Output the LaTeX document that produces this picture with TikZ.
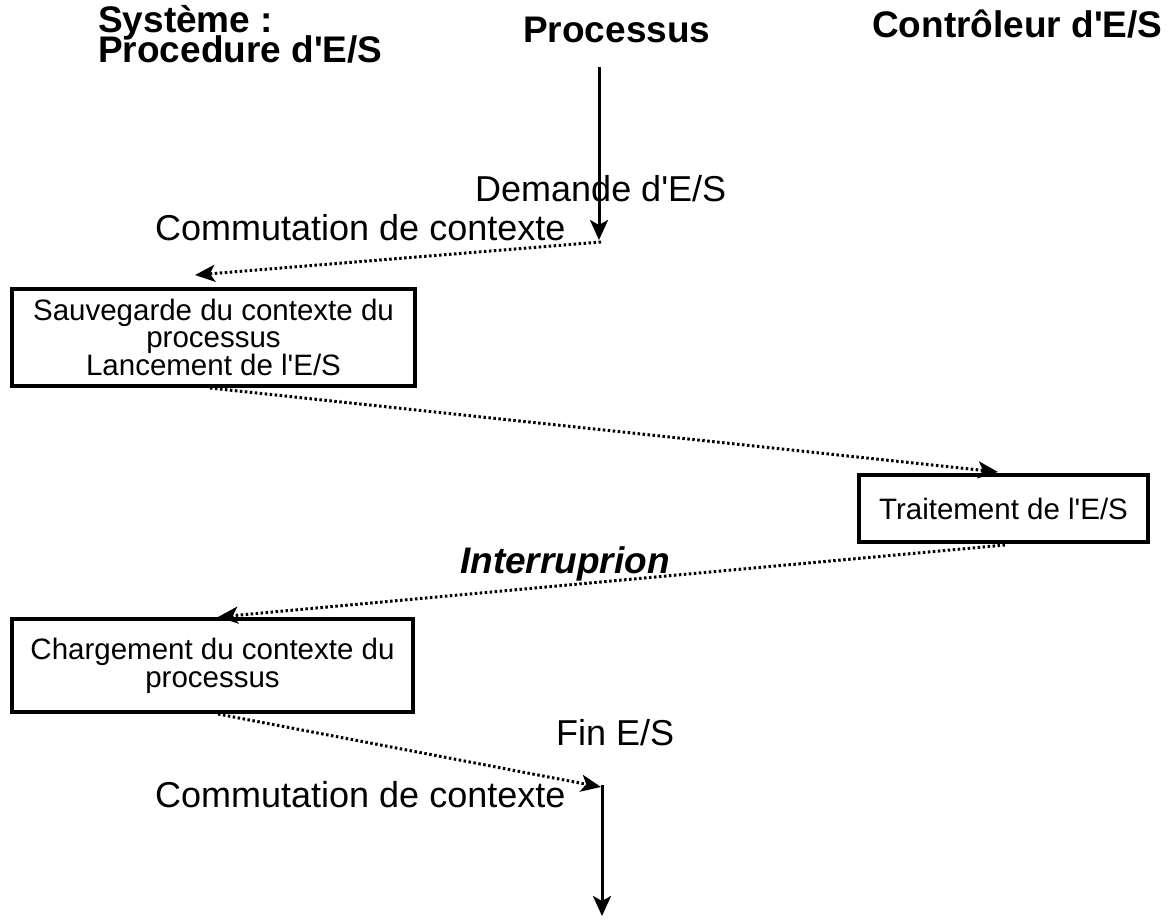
\documentclass[tikz,border=0pt]{standalone}
\usepackage{fontspec}
\setmainfont{Liberation Sans}
\usetikzlibrary{arrows.meta}
\newcommand{\apo}{\textquotesingle}
\begin{document}
\begin{tikzpicture}[x=1pt,y=-1pt,
  lbl/.style={inner sep=0pt, anchor=base west, font=\fontsize{36}{40}\selectfont},
  hdr/.style={inner sep=0pt, anchor=base west, font=\fontsize{37}{28}\selectfont\bfseries},
  procbox/.style={draw, line width=3.5pt, inner sep=0pt, align=center},
  solidarrow/.style={line width=3pt, -{Stealth[length=20pt,width=18pt,inset=5pt]}},
  dotarrow/.style={line width=3pt, dash pattern=on 2.5pt off 2.5pt, -{Stealth[length=20pt,width=17pt,inset=5pt]}}]
\useasboundingbox[fill=white] (0,0) rectangle (1172,919);

% headers
\node[hdr] (sys) at (98,32) {Système :};
\node[hdr] (sysb) at (98,62) {Procedure d\apo E/S};
\node[hdr] (proc) at (523,42) {Processus};
\node[hdr] (ctrl) at (872,37) {Contrôleur d\apo E/S};

% labels
\node[lbl] (dem) at (475,201) {Demande d\apo E/S};
\node[lbl] (com1) at (155,240) {Commutation de contexte};
\node[inner sep=0pt, anchor=base west, font=\fontsize{37}{40}\selectfont\bfseries\itshape] (intr) at (460,573) {Interruprion};
\node[lbl] (fin) at (556,745) {Fin E/S};
\node[lbl] (com2) at (155,807) {Commutation de contexte};

% boxes
\node[procbox, minimum width=403pt, minimum height=97pt, font=\fontsize{29.5}{27}\selectfont] (sauv) at (213.5,337.5) {Sauvegarde du contexte du\\processus\\Lancement de l\apo E/S};
\node[procbox, minimum width=289pt, minimum height=67pt, font=\fontsize{29.5}{28}\selectfont] (trait) at (1003.5,508.5) {Traitement de l\apo E/S};
\node[procbox, minimum width=401pt, minimum height=93pt, font=\fontsize{29.5}{28}\selectfont] (charg) at (212.5,665.5) {Chargement du contexte du\\processus};

% coordinates
\coordinate (s1) at (599,67);
\coordinate (p1) at (599,240);
\coordinate (q1) at (601,242);
\coordinate (t1) at (195,275);
\coordinate (b1) at (210,388);
\coordinate (t2) at (998,472);
\coordinate (b2) at (1005,545);
\coordinate (t3) at (218,617);
\coordinate (b3) at (218,714);
\coordinate (t4) at (601,787);
\coordinate (s5) at (602,785);
\coordinate (e5) at (602,916);

% connectors
\draw[solidarrow] (s1) -- (p1);
\draw[dotarrow] (q1) -- (t1);
\draw[dotarrow] (b1) -- (t2);
\draw[dotarrow] (b2) -- (t3);
\draw[dotarrow] (b3) -- (t4);
\draw[solidarrow] (s5) -- (e5);
\end{tikzpicture}
\end{document}
